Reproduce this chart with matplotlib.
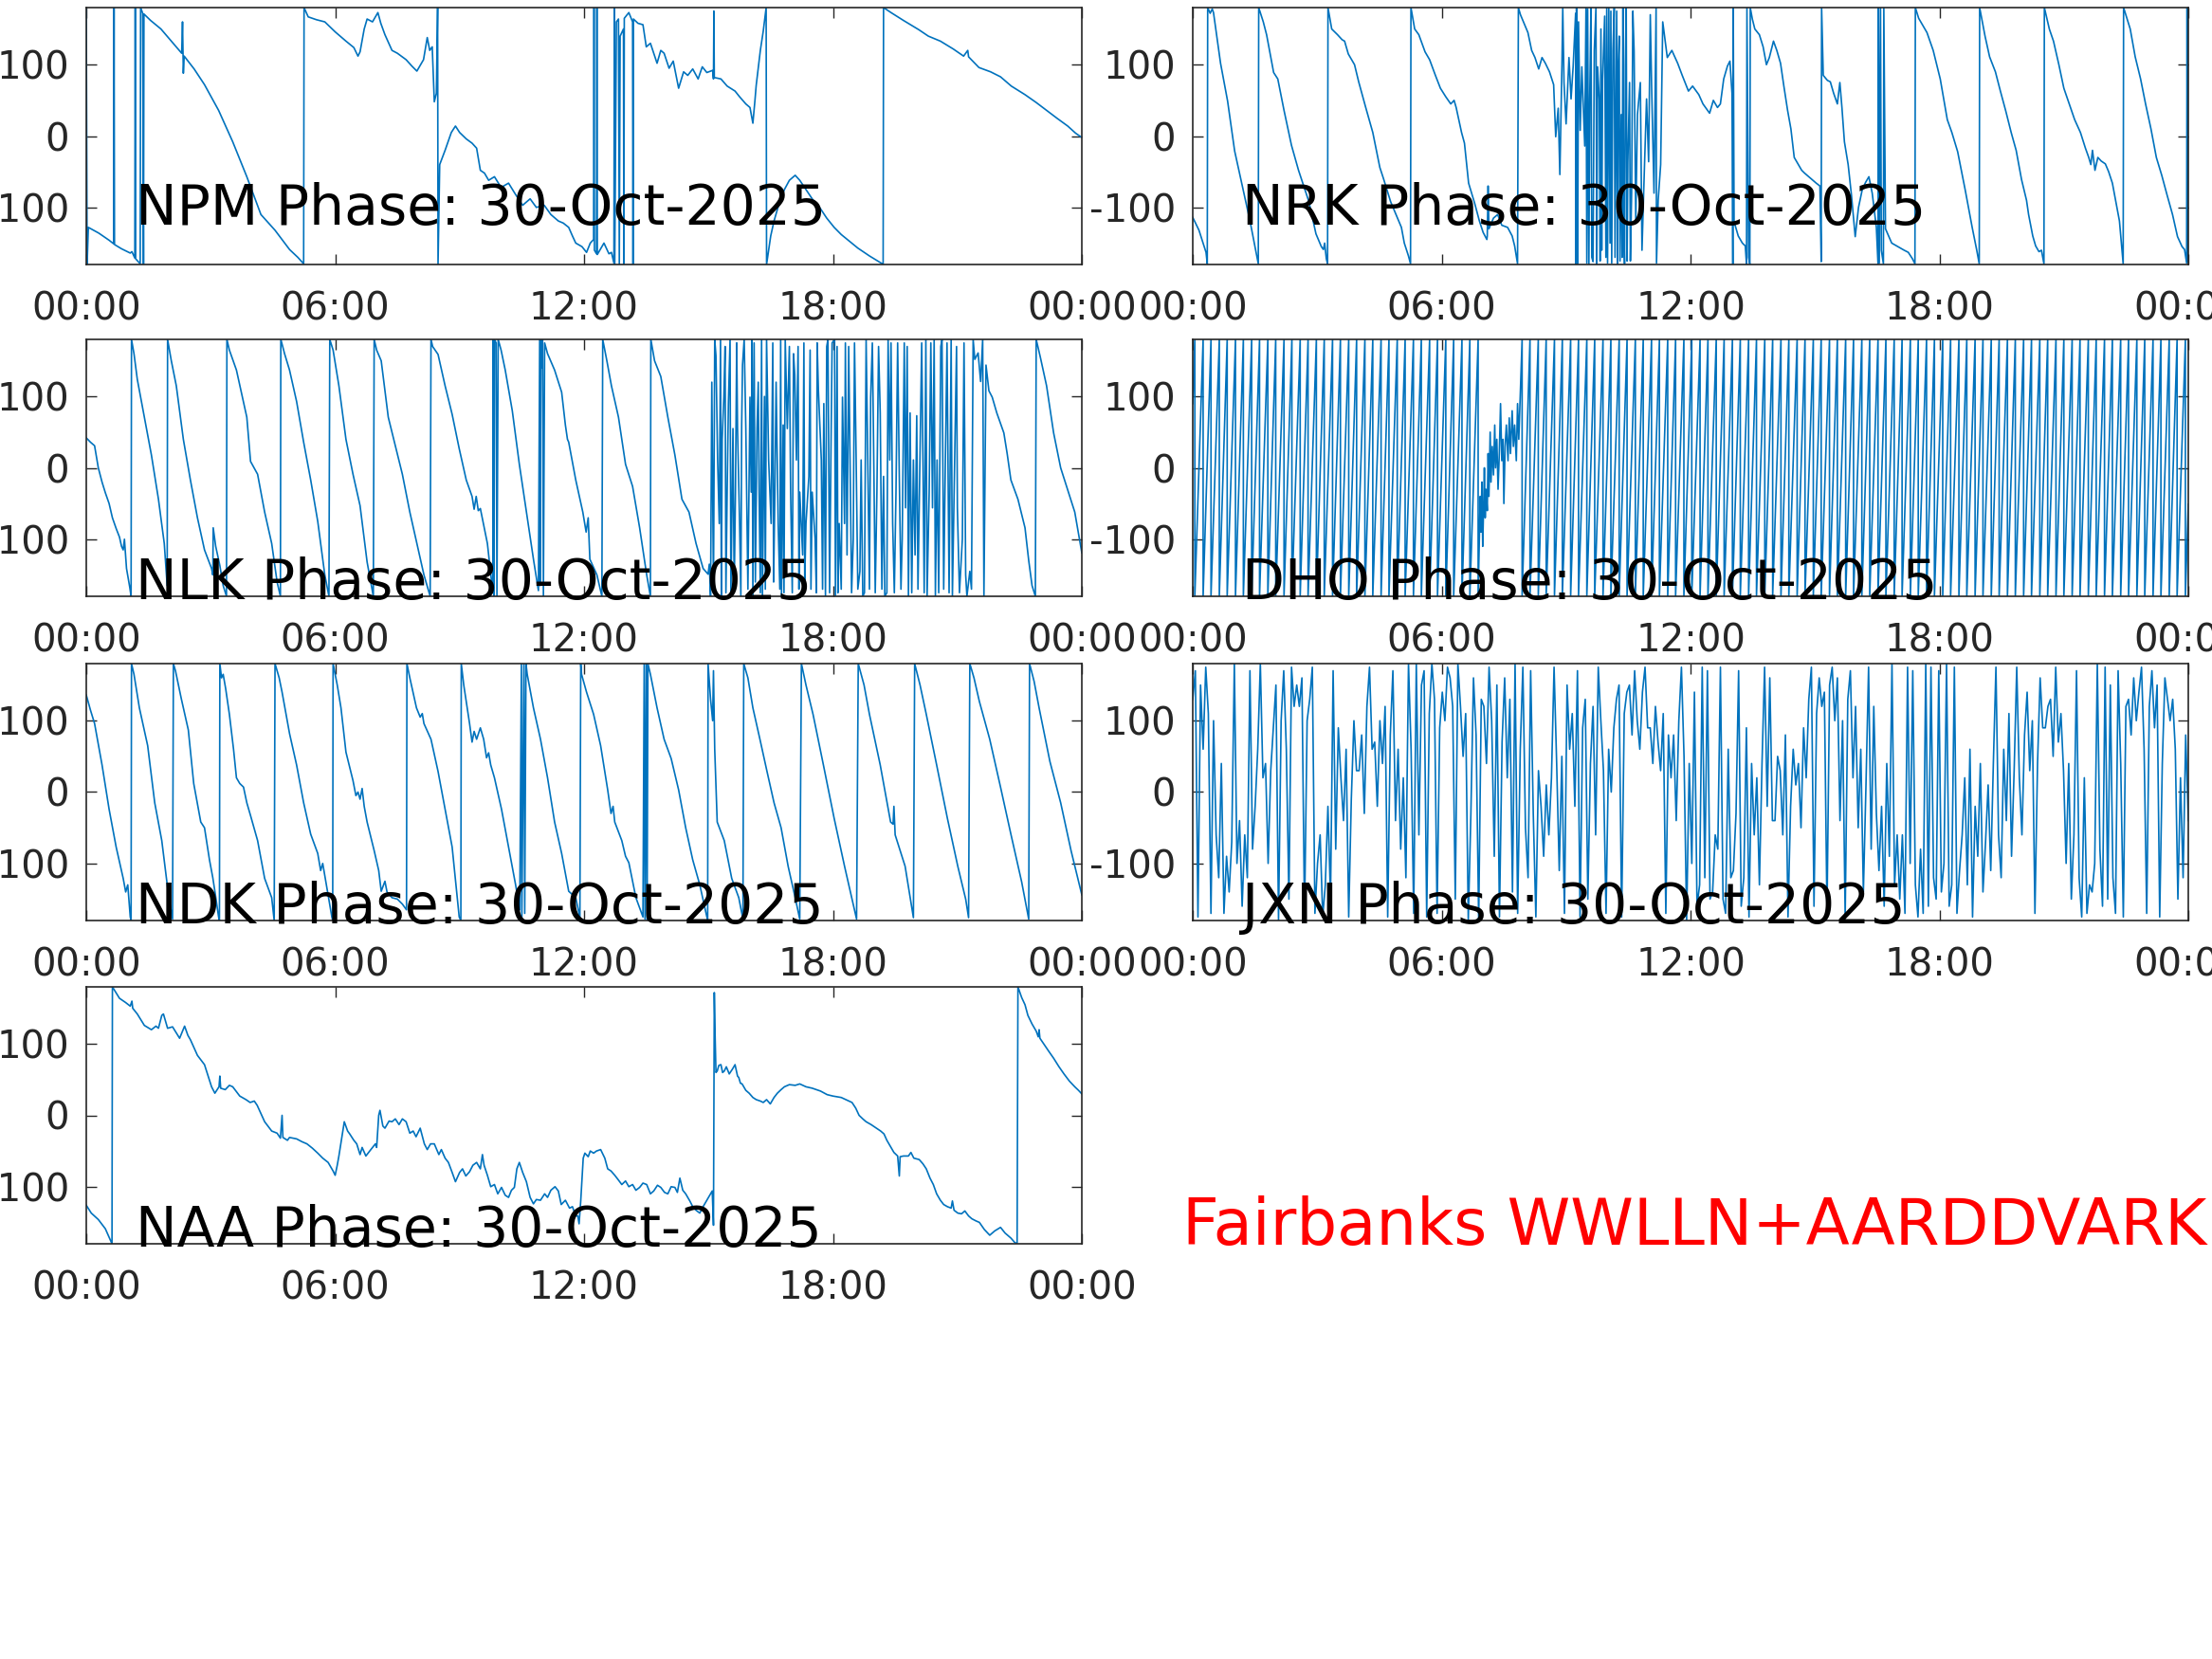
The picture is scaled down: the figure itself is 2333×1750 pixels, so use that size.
import numpy as np
import matplotlib
matplotlib.use("Agg")
import matplotlib.pyplot as plt

plt.rcParams['font.family'] = ['DejaVu Sans']
plt.rcParams['axes.unicode_minus'] = False

# ---------------- data: (hour of day, phase in degrees) ----------------
npm = [(0.00, 180), (0.02, -180), (0.05, -128), (0.30, -136), (0.55, -146), (0.66, -151), (0.67, 180), (0.68, -152),
       (0.85, -158), (1.06, -164), (1.10, -162), (1.17, -171), (1.18, 180), (1.19, -172), (1.30, -179), (1.31, 180),
       (1.36, 172), (1.38, -180), (1.39, 171), (1.55, 162), (1.8, 150), (2.05, 133), (2.3, 116), (2.32, 160), (2.34, 88),
       (2.36, 112), (2.6, 94), (2.85, 72), (3.19, 36), (3.53, -8), (3.87, -57), (4.21, -110), (4.55, -132), (4.9, -159),
       (5.1, -170), (5.24, -179), (5.25, 180), (5.35, 167), (5.55, 163), (5.75, 160), (6.0, 146), (6.26, 133), (6.45, 124),
       (6.55, 112), (6.6, 118), (6.7, 150), (6.77, 164), (6.9, 160), (7.03, 173), (7.1, 158), (7.2, 142), (7.37, 120),
       (7.5, 116), (7.71, 107), (7.85, 98), (7.97, 91), (8.13, 107), (8.22, 138), (8.28, 120), (8.34, 125), (8.39, 48),
       (8.44, 60), (8.47, 180), (8.48, -180), (8.52, -40), (8.65, -20), (8.8, 5), (8.9, 14), (9.0, 5), (9.16, -4),
       (9.3, -10), (9.41, -17), (9.5, -48), (9.6, -52), (9.7, -62), (9.84, -57), (10.0, -72), (10.18, -66), (10.35, -82),
       (10.52, -97), (10.7, -88), (10.85, -100), (11.04, -97), (11.2, -110), (11.38, -119), (11.5, -122), (11.63, -128),
       (11.72, -140), (11.8, -150), (11.95, -155), (12.06, -163), (12.15, -150), (12.23, -145), (12.24, 180), (12.25, -160),
       (12.30, -165), (12.31, 180), (12.32, -166), (12.48, -150), (12.6, -165), (12.66, -163), (12.72, -178), (12.73, 180),
       (12.74, -180), (12.78, 160), (12.83, 164), (12.85, -180), (12.87, 140), (12.95, 150), (12.96, -180), (12.97, 165),
       (13.08, 173), (13.17, 160), (13.18, -180), (13.19, 164), (13.3, 158), (13.42, 156), (13.5, 125), (13.6, 130),
       (13.76, 102), (13.85, 120), (13.93, 116), (14.05, 95), (14.15, 105), (14.28, 67), (14.4, 90), (14.5, 85),
       (14.62, 94), (14.75, 80), (14.85, 97), (14.96, 89), (15.1, 92), (15.12, 80), (15.13, 175), (15.14, 82), (15.3, 80),
       (15.45, 70), (15.64, 63), (15.75, 55), (15.9, 45), (16.0, 40), (16.07, 18), (16.12, 50), (16.15, 71), (16.25, 120),
       (16.32, 147), (16.38, 176), (16.39, 180), (16.40, -180), (16.5, -140), (16.58, -119), (16.7, -95), (16.83, -75),
       (16.95, -62), (17.09, -55), (17.2, -62), (17.35, -75), (17.5, -88), (17.69, -101), (17.85, -115), (18.03, -128),
       (18.2, -138), (18.37, -146), (18.6, -157), (18.88, -168), (19.05, -174), (19.19, -179), (19.21, -180), (19.22, 180),
       (19.4, 173), (19.7, 162), (20.07, 149), (20.3, 140), (20.59, 133), (20.9, 122), (21.15, 112), (21.25, 120),
       (21.27, 111), (21.52, 96), (21.8, 90), (22.04, 83), (22.3, 70), (22.63, 58), (22.9, 47), (23.15, 36), (23.4, 25),
       (23.66, 14), (23.85, 4), (24.0, -2)]

nrk = [(0.0, -114), (0.15, -132), (0.25, -150), (0.32, -163), (0.35, -179), (0.36, 180), (0.42, 172), (0.47, 178),
       (0.5, 173), (0.67, 102), (0.84, 49), (1.01, -21), (1.18, -66), (1.38, -119), (1.5, -155), (1.58, -179), (1.59, 180),
       (1.7, 160), (1.78, 142), (1.95, 89), (2.05, 80), (2.2, 36), (2.38, -13), (2.55, -48), (2.8, -92), (2.97, -137),
       (3.1, -155), (3.15, -159), (3.18, -150), (3.22, -172), (3.25, -179), (3.26, 180), (3.35, 150), (3.49, 142),
       (3.6, 135), (3.66, 133), (3.75, 115), (3.83, 107), (3.9, 100), (4.0, 76), (4.17, 40), (4.34, 5), (4.51, -44),
       (4.6, -60), (4.77, -92), (4.9, -110), (5.03, -128), (5.1, -150), (5.2, -168), (5.25, -179), (5.26, 180), (5.35, 150),
       (5.45, 142), (5.6, 118), (5.71, 107), (5.85, 85), (5.97, 67), (6.1, 55), (6.22, 45), (6.3, 50), (6.35, 40),
       (6.48, 5), (6.55, -10), (6.65, -66), (6.8, -95), (6.91, -119), (7.0, -135), (7.09, -145), (7.1, -140), (7.12, -70),
       (7.14, -130), (7.25, -115), (7.35, -110), (7.45, -125), (7.59, -128), (7.7, -140), (7.76, -154), (7.83, -179),
       (7.85, 180), (7.9, 170), (8.0, 156), (8.08, 145), (8.17, 120), (8.25, 110), (8.34, 94), (8.42, 110), (8.5, 102),
       (8.6, 90), (8.7, 72), (8.75, -1), (8.81, 39), (8.85, -54), (8.9, 100), (8.92, 180), (8.95, 75), (9.0, 17),
       (9.07, 110), (9.12, 52), (9.17, 97), (9.23, 172), (9.24, -180), (9.25, 180), (9.26, 150), (9.27, -180),
       (9.28, -175), (9.3, 160), (9.34, 8), (9.38, 97), (9.45, -14), (9.48, 180), (9.5, -178), (9.52, 178), (9.55, -180),
       (9.57, 52), (9.6, 180), (9.62, -170), (9.65, -176), (9.68, 120), (9.72, 180), (9.74, -180), (9.76, 97), (9.8, 52),
       (9.82, -175), (9.84, 150), (9.86, -160), (9.88, 79), (9.93, 168), (9.96, -170), (9.98, 180), (10.0, -178),
       (10.03, 180), (10.06, -150), (10.08, 175), (10.1, -178), (10.13, 120), (10.16, 180), (10.18, -170), (10.2, 8),
       (10.22, 175), (10.24, -179), (10.26, 100), (10.28, 140), (10.3, -175), (10.33, 30), (10.35, -170), (10.37, 180),
       (10.39, -120), (10.41, -179), (10.43, 100), (10.45, 180), (10.47, -175), (10.49, -36), (10.53, 75), (10.55, -175),
       (10.58, -80), (10.61, 175), (10.64, 119), (10.68, -120), (10.72, 30), (10.79, 75), (10.83, -160), (10.87, -80),
       (10.94, 52), (10.99, -36), (11.03, 170), (11.06, 75), (11.12, -80), (11.17, 180), (11.18, -178), (11.22, -90),
       (11.28, -40), (11.33, 160), (11.44, 110), (11.55, 120), (11.69, 102), (11.8, 85), (11.95, 63), (12.05, 70),
       (12.2, 58), (12.3, 45), (12.46, 32), (12.55, 50), (12.65, 40), (12.72, 45), (12.8, 80), (12.89, 98), (12.95, 105),
       (13.0, 60), (13.02, -180), (13.03, 180), (13.05, -120), (13.15, -140), (13.25, -150), (13.32, -154), (13.35, -180),
       (13.36, 180), (13.4, -170), (13.43, -180), (13.44, 180), (13.49, 164), (13.55, 150), (13.66, 142), (13.75, 125),
       (13.83, 100), (13.9, 110), (14.0, 133), (14.08, 120), (14.17, 102), (14.25, 70), (14.34, 36), (14.42, 10),
       (14.5, -30), (14.6, -40), (14.68, -48), (14.75, -52), (14.85, -57), (14.95, -62), (15.03, -66), (15.12, -70),
       (15.15, -176), (15.16, 180), (15.2, 85), (15.3, 78), (15.37, 76), (15.45, 60), (15.54, 45), (15.6, 75), (15.65, 40),
       (15.71, -8), (15.8, -40), (15.88, -83), (15.97, -141), (16.05, -100), (16.14, -75), (16.22, -65), (16.3, -57),
       (16.38, -80), (16.48, -128), (16.52, -179), (16.53, 180), (16.55, -178), (16.58, 180), (16.6, -160), (16.65, -179),
       (16.66, 180), (16.7, -130), (16.85, -150), (17.0, -155), (17.15, -160), (17.25, -163), (17.35, -172), (17.41, -179),
       (17.42, 180), (17.5, 165), (17.59, 156), (17.7, 145), (17.85, 120), (18.02, 80), (18.19, 23), (18.3, 5),
       (18.44, -22), (18.62, -75), (18.79, -128), (18.9, -160), (18.96, -179), (18.97, 180), (19.1, 140), (19.21, 111),
       (19.35, 90), (19.47, 63), (19.6, 35), (19.73, 5), (19.85, -20), (19.98, -61), (20.1, -90), (20.15, -110),
       (20.25, -140), (20.32, -154), (20.4, -162), (20.46, -160), (20.52, -179), (20.53, 180), (20.65, 150), (20.75, 133),
       (20.88, 100), (21.0, 67), (21.13, 45), (21.26, 23), (21.4, 5), (21.52, -17), (21.6, -30), (21.65, -40),
       (21.69, -20), (21.75, -48), (21.82, -30), (21.9, -35), (22.0, -39), (22.08, -50), (22.17, -66), (22.34, -119),
       (22.43, -179), (22.44, 180), (22.6, 150), (22.72, 111), (22.85, 80), (22.97, 45), (23.1, 10), (23.23, -30),
       (23.36, -55), (23.49, -83), (23.62, -110), (23.74, -141), (23.85, -155), (23.91, -159), (23.96, -178), (23.97, 180),
       (23.98, -170), (24.0, -176)]

nlk = [(0.0, 42), (0.1, 36), (0.2, 31), (0.29, 0), (0.38, -20), (0.46, -35), (0.55, -50), (0.63, -70), (0.72, -85),
       (0.8, -97), (0.85, -110), (0.89, -115), (0.92, -100), (0.97, -141), (1.05, -168), (1.08, -180), (1.09, 180),
       (1.15, 160), (1.23, 124), (1.4, 71), (1.57, 18), (1.74, -44), (1.88, -106), (1.95, -165), (1.96, 180), (2.05, 150),
       (2.17, 115), (2.34, 40), (2.51, -17), (2.68, -70), (2.85, -115), (3.02, -141), (3.05, -150), (3.06, -84),
       (3.12, -110), (3.22, -137), (3.3, -165), (3.38, -180), (3.39, 180), (3.45, 165), (3.62, 137), (3.87, 71), (3.96, 9),
       (4.13, -9), (4.3, -62), (4.47, -106), (4.6, -160), (4.68, -180), (4.69, 180), (4.78, 160), (4.9, 137), (5.07, 93),
       (5.24, 36), (5.41, -17), (5.58, -75), (5.75, -150), (5.85, -180), (5.87, 180), (5.95, 165), (6.09, 115), (6.26, 40),
       (6.43, -9), (6.6, -53), (6.77, -132), (6.92, -180), (6.94, 180), (7.0, 165), (7.11, 150), (7.28, 71), (7.45, 31),
       (7.62, -9), (7.8, -62), (7.97, -106), (8.14, -150), (8.29, -180), (8.31, 180), (8.35, 170), (8.48, 159),
       (8.65, 115), (8.82, 75), (8.99, 27), (9.16, -17), (9.3, -40), (9.35, -58), (9.4, -40), (9.45, -60), (9.5, -57),
       (9.67, -106), (9.8, -175), (9.81, 180), (9.83, -180), (9.84, 180), (9.88, 175), (9.9, -180), (9.93, 180),
       (10.0, 165), (10.1, 137), (10.27, 80), (10.44, 5), (10.61, -62), (10.78, -128), (10.9, -172), (10.93, 180),
       (10.94, -165), (10.96, 180), (10.98, 140), (11.0, 180), (11.02, -180), (11.05, 175), (11.12, 160), (11.29, 137),
       (11.46, 106), (11.55, 60), (11.6, 40), (11.63, 36), (11.8, -17), (11.97, -62), (12.05, -90), (12.1, -70),
       (12.14, -128), (12.31, -150), (12.43, -180), (12.45, 180), (12.55, 150), (12.66, 115), (12.83, 71), (13.0, 5),
       (13.17, -26), (13.34, -84), (13.51, -150), (13.6, -180), (13.61, 180), (13.7, 150), (13.85, 128), (14.02, 71),
       (14.19, 18), (14.36, -44), (14.53, -62), (14.7, -106), (14.87, -141), (14.99, -149), (15.02, -135), (15.05, -180),
       (15.08, 120), (15.12, -170), (15.15, 180), (15.18, 157), (15.22, 11), (15.26, -78), (15.29, 180), (15.31, -180),
       (15.33, 40), (15.37, 99), (15.4, 170), (15.42, -175), (15.45, -34), (15.48, 90), (15.52, 180), (15.54, -180),
       (15.59, 55), (15.62, -170), (15.65, -34), (15.68, 175), (15.7, 55), (15.75, -78), (15.78, -180), (15.8, 60),
       (15.82, 144), (15.86, 180), (15.9, 55), (15.95, -170), (16.0, 99), (16.03, -34), (16.05, 180), (16.07, -180),
       (16.1, 175), (16.13, -160), (16.17, 55), (16.2, 120), (16.22, -34), (16.25, -175), (16.28, 180), (16.3, -180),
       (16.35, 100), (16.37, -170), (16.4, 180), (16.45, 11), (16.51, -78), (16.55, 175), (16.57, -160), (16.6, -34),
       (16.63, 120), (16.68, -78), (16.72, -170), (16.74, 180), (16.76, -180), (16.8, 60), (16.82, -175), (16.85, 180),
       (16.9, 55), (16.95, 170), (16.98, -34), (17.02, -175), (17.05, 160), (17.08, 130), (17.12, 11), (17.16, 170),
       (17.18, -170), (17.2, -34), (17.27, -122), (17.3, 175), (17.32, -160), (17.35, -78), (17.42, -12), (17.45, 165),
       (17.47, -170), (17.5, -34), (17.57, -100), (17.6, -175), (17.62, 175), (17.65, 108), (17.72, 11), (17.75, -170),
       (17.78, 90), (17.82, -180), (17.85, 170), (17.88, 180), (17.92, -175), (17.95, 11), (17.98, 175), (18.04, 180),
       (18.06, -180), (18.1, 170), (18.12, -175), (18.15, -78), (18.2, -170), (18.23, 99), (18.28, -78), (18.3, 175),
       (18.34, -122), (18.38, 170), (18.42, -34), (18.45, -175), (18.49, -100), (18.52, 175), (18.56, 11), (18.6, -170),
       (18.65, -145), (18.68, 11), (18.72, -180), (18.76, -175), (18.8, 180), (18.84, 11), (18.88, -170), (18.91, 99),
       (18.95, 175), (18.98, 33), (19.02, -175), (19.06, -34), (19.1, 170), (19.14, 77), (19.18, -170), (19.22, -12),
       (19.25, -180), (19.3, -175), (19.33, 180), (19.37, 11), (19.4, 175), (19.44, -78), (19.48, -175), (19.52, -34),
       (19.56, 175), (19.6, -12), (19.64, -170), (19.67, -100), (19.72, 175), (19.75, -56), (19.79, 170), (19.82, -180),
       (19.86, 77), (19.9, -175), (19.94, 11), (19.98, -122), (20.02, 73), (20.05, -170), (20.1, 19), (20.14, 175),
       (20.17, 11), (20.2, -175), (20.24, 180), (20.27, -180), (20.32, -34), (20.36, 175), (20.4, -56), (20.44, 180),
       (20.47, -180), (20.51, 11), (20.55, -175), (20.6, 170), (20.63, 180), (20.67, -170), (20.7, -34), (20.75, 175),
       (20.8, -175), (20.85, 180), (20.88, -180), (20.93, -3), (20.98, 170), (21.0, -56), (21.05, -175), (21.12, -100),
       (21.16, 175), (21.2, -150), (21.23, -180), (21.3, -145), (21.34, -170), (21.38, 180), (21.42, 152), (21.5, 161),
       (21.56, 121), (21.61, 180), (21.64, -180), (21.69, 144), (21.76, 108), (21.84, 99), (21.95, 77), (22.12, 49),
       (22.2, 20), (22.29, -17), (22.46, -44), (22.63, -84), (22.72, -130), (22.8, -165), (22.88, -180), (22.9, 180),
       (23.0, 155), (23.15, 115), (23.32, 49), (23.49, 0), (23.66, -31), (23.83, -62), (24.0, -119)]

ndk = [(0.0, 136), (0.1, 115), (0.2, 96), (0.38, 38), (0.55, -24), (0.72, -77), (0.89, -121), (0.95, -140), (1.0, -130),
       (1.06, -175), (1.08, -180), (1.09, 180), (1.15, 165), (1.28, 118), (1.48, 65), (1.65, -15), (1.82, -68),
       (1.99, -148), (2.08, -178), (2.1, 180), (2.15, 170), (2.29, 131), (2.46, 87), (2.59, 12), (2.76, -42), (2.85, -50),
       (2.97, -95), (3.05, -120), (3.1, -139), (3.19, -175), (3.21, -180), (3.22, 180), (3.26, 160), (3.3, 165),
       (3.36, 145), (3.45, 109), (3.55, 60), (3.62, 20), (3.7, 12), (3.79, 7), (3.87, -15), (3.92, -25), (3.96, -33),
       (4.13, -68), (4.3, -121), (4.47, -148), (4.53, -180), (4.55, 180), (4.65, 160), (4.72, 140), (4.9, 82), (5.07, 38),
       (5.24, -15), (5.41, -59), (5.58, -86), (5.65, -110), (5.7, -100), (5.75, -117), (5.92, -175), (5.94, -180),
       (5.95, 180), (6.05, 150), (6.14, 118), (6.26, 56), (6.43, 16), (6.5, -5), (6.55, 0), (6.6, -10), (6.65, 5),
       (6.7, -20), (6.77, -42), (6.94, -82), (7.05, -110), (7.11, -139), (7.2, -125), (7.25, -140), (7.37, -148),
       (7.5, -150), (7.62, -157), (7.72, -165), (7.73, 180), (7.8, 160), (7.96, 118), (8.05, 105), (8.1, 110), (8.14, 96),
       (8.31, 74), (8.48, 29), (8.65, -24), (8.82, -77), (8.99, -175), (9.03, -180), (9.04, 180), (9.1, 150), (9.24, 96),
       (9.3, 70), (9.35, 85), (9.41, 74), (9.5, 90), (9.58, 74), (9.65, 48), (9.7, 55), (9.75, 38), (9.84, 20),
       (10.01, -24), (10.18, -77), (10.35, -130), (10.45, -165), (10.49, 180), (10.5, -180), (10.55, 180), (10.57, -170),
       (10.6, 180), (10.63, 165), (10.78, 118), (10.95, 74), (11.12, 20), (11.29, -42), (11.46, -86), (11.63, -139),
       (11.8, -148), (11.9, -176), (11.92, 180), (11.94, 165), (12.06, 140), (12.23, 109), (12.4, 65), (12.57, 3),
       (12.65, -30), (12.7, -20), (12.74, -42), (12.91, -68), (13.0, -90), (13.08, -99), (13.25, -148), (13.42, -175),
       (13.45, 180), (13.47, -178), (13.5, 180), (13.52, -180), (13.54, 180), (13.6, 165), (13.76, 118), (13.93, 74),
       (14.1, 47), (14.28, 3), (14.45, -50), (14.62, -95), (14.79, -130), (14.96, -175), (14.98, -180), (14.99, 180),
       (15.05, 130), (15.1, 100), (15.12, 170), (15.15, 60), (15.21, -42), (15.38, -68), (15.56, -121), (15.73, -148),
       (15.83, -178), (15.85, 180), (15.95, 160), (16.07, 118), (16.24, 74), (16.41, 29), (16.58, -15), (16.75, -50),
       (16.92, -104), (17.09, -148), (17.2, -178), (17.24, 180), (17.35, 150), (17.52, 109), (17.77, 38), (18.03, -37),
       (18.28, -104), (18.57, -178), (18.61, 180), (18.75, 150), (18.88, 109), (19.14, 38), (19.39, -42), (19.45, -45),
       (19.47, -20), (19.5, -60), (19.74, -104), (19.94, -176), (19.97, 180), (20.1, 150), (20.25, 109), (20.5, 38),
       (20.76, -37), (21.01, -104), (21.2, -150), (21.27, -176), (21.3, 180), (21.4, 160), (21.53, 127), (21.78, 74),
       (22.04, 7), (22.29, -59), (22.55, -126), (22.72, -178), (22.74, 180), (22.85, 155), (22.97, 118), (23.23, 43),
       (23.49, -15), (23.74, -82), (24.0, -144)]

naa = [(0.0, -126), (0.12, -137), (0.29, -146), (0.46, -159), (0.62, -180), (0.63, 180), (0.8, 164), (0.95, 158),
       (1.06, 153), (1.1, 160), (1.12, 150), (1.23, 142), (1.4, 126), (1.57, 120), (1.68, 125), (1.74, 122), (1.82, 140),
       (1.86, 142), (1.96, 122), (2.08, 124), (2.25, 108), (2.3, 115), (2.37, 125), (2.45, 112), (2.51, 106), (2.68, 84),
       (2.85, 71), (3.02, 40), (3.1, 31), (3.2, 40), (3.22, 55), (3.24, 38), (3.35, 36), (3.45, 42), (3.53, 40),
       (3.7, 27), (3.85, 22), (3.95, 18), (4.05, 20), (4.12, 14), (4.3, -9), (4.47, -22), (4.6, -25), (4.68, -32),
       (4.72, 0), (4.74, -31), (4.85, -35), (4.9, -31), (5.07, -33), (5.2, -37), (5.32, -40), (5.45, -46), (5.58, -53),
       (5.7, -60), (5.83, -66), (5.95, -78), (6.0, -84), (6.05, -70), (6.09, -57), (6.22, -9), (6.3, -22), (6.35, -26),
       (6.45, -35), (6.52, -40), (6.6, -55), (6.65, -45), (6.74, -57), (6.86, -48), (6.97, -40), (7.0, -45), (7.05, 0),
       (7.08, 7), (7.15, -15), (7.2, -18), (7.3, -8), (7.37, -9), (7.45, -5), (7.54, -13), (7.62, -5), (7.71, -9),
       (7.8, -25), (7.88, -22), (7.95, -30), (8.05, -18), (8.15, -40), (8.22, -48), (8.3, -40), (8.39, -40), (8.5, -55),
       (8.56, -48), (8.65, -60), (8.73, -66), (8.82, -80), (8.9, -93), (9.0, -80), (9.07, -75), (9.15, -85), (9.24, -79),
       (9.32, -70), (9.41, -66), (9.5, -75), (9.55, -55), (9.59, -70), (9.67, -84), (9.75, -100), (9.84, -97),
       (9.92, -110), (10.01, -101), (10.1, -112), (10.18, -115), (10.25, -105), (10.32, -101), (10.38, -75), (10.44, -66),
       (10.52, -80), (10.61, -93), (10.7, -115), (10.78, -124), (10.85, -118), (10.95, -119), (11.05, -110),
       (11.12, -115), (11.2, -105), (11.3, -100), (11.38, -106), (11.45, -125), (11.55, -119), (11.65, -130),
       (11.72, -128), (11.8, -141), (11.85, -141), (11.88, -152), (11.92, -120), (11.98, -60), (12.02, -53), (12.1, -58),
       (12.15, -50), (12.23, -53), (12.3, -50), (12.4, -48), (12.5, -60), (12.57, -75), (12.65, -78), (12.74, -84),
       (12.82, -90), (12.91, -97), (13.0, -92), (13.08, -100), (13.17, -97), (13.25, -105), (13.34, -101), (13.42, -95),
       (13.51, -97), (13.6, -110), (13.68, -106), (13.77, -98), (13.85, -101), (13.94, -108), (14.02, -110), (14.1, -100),
       (14.19, -101), (14.25, -108), (14.31, -88), (14.38, -105), (14.45, -110), (14.55, -120), (14.62, -128),
       (14.7, -133), (14.79, -137), (14.87, -128), (14.96, -119), (15.05, -110), (15.09, -106), (15.12, -154),
       (15.14, 172), (15.16, 110), (15.18, 60), (15.21, 62), (15.25, 70), (15.3, 71), (15.34, 60), (15.38, 62),
       (15.43, 68), (15.5, 58), (15.58, 65), (15.64, 71), (15.7, 55), (15.73, 53), (15.77, 45), (15.81, 44), (15.9, 35),
       (15.98, 31), (16.07, 25), (16.15, 22), (16.25, 20), (16.32, 18), (16.4, 22), (16.49, 16), (16.58, 25), (16.66, 31),
       (16.75, 36), (16.83, 40), (16.95, 43), (17.09, 42), (17.2, 44), (17.35, 40), (17.5, 38), (17.6, 36), (17.7, 34),
       (17.86, 29), (18.0, 27), (18.2, 25), (18.35, 21), (18.46, 18), (18.55, 10), (18.63, 0), (18.72, -5), (18.8, -9),
       (18.92, -13), (19.05, -18), (19.15, -22), (19.23, -26), (19.3, -35), (19.39, -44), (19.47, -52), (19.56, -57),
       (19.6, -85), (19.62, -58), (19.7, -57), (19.82, -57), (19.88, -52), (19.95, -60), (20.08, -62), (20.17, -68),
       (20.25, -75), (20.34, -88), (20.42, -97), (20.5, -110), (20.59, -119), (20.67, -125), (20.76, -128), (20.85, -130),
       (20.88, -120), (20.92, -133), (21.01, -137), (21.1, -138), (21.18, -134), (21.27, -141), (21.35, -145),
       (21.45, -148), (21.53, -150), (21.65, -160), (21.78, -168), (21.9, -162), (22.04, -157), (22.15, -165),
       (22.29, -172), (22.38, -178), (22.44, -180), (22.46, 180), (22.55, 165), (22.63, 155), (22.7, 140), (22.8, 128),
       (22.9, 118), (22.95, 110), (22.97, 120), (22.99, 108), (23.06, 102), (23.2, 90), (23.32, 80), (23.45, 68),
       (23.57, 58), (23.7, 48), (23.83, 40), (23.92, 35), (24.0, 30)]

# DHO: fast rising sawtooth, wrap times (hours) before and after the noisy gap
dho_start_phase = 90
dho_wraps_early = [0.05, 0.25, 0.44, 0.64, 0.83, 1.03, 1.22, 1.42, 1.61, 1.81, 2.00, 2.20, 2.39, 2.59, 2.78, 2.98,
                   3.17, 3.37, 3.56, 3.76, 3.95, 4.15, 4.34, 4.54, 4.73, 4.93, 5.12, 5.32, 5.51, 5.71, 5.90, 6.10,
                   6.29, 6.49, 6.68, 6.88]
dho_gap = [(6.93, -40), (6.95, -90), (6.97, -20), (6.99, -110), (7.01, -60), (7.03, 0), (7.05, -70), (7.07, -30),
           (7.10, -60), (7.12, 20), (7.14, -40), (7.17, 50), (7.19, -20), (7.22, 30), (7.25, -10), (7.28, 60),
           (7.30, 0), (7.33, 40), (7.36, -30), (7.39, 20), (7.42, 90), (7.45, 10), (7.48, 40), (7.50, -50),
           (7.53, 30), (7.56, 60), (7.60, 10), (7.63, 70), (7.66, 20), (7.70, 80), (7.73, 30), (7.76, 60),
           (7.80, 10), (7.83, 90), (7.86, 40)]
dho_wraps_late = [7.94, 8.13, 8.33, 8.52, 8.72, 8.91, 9.11, 9.30, 9.50, 9.69, 9.89, 10.08, 10.28, 10.47, 10.67,
                  10.86, 11.06, 11.25, 11.45, 11.64, 11.84, 12.03, 12.23, 12.42, 12.62, 12.81, 13.01, 13.20, 13.40,
                  13.59, 13.79, 13.98, 14.18, 14.37, 14.57, 14.76, 14.96, 15.15, 15.35, 15.54, 15.74, 15.93, 16.13,
                  16.32, 16.52, 16.71, 16.91, 17.10, 17.30, 17.49, 17.69, 17.88, 18.08, 18.27, 18.47, 18.66, 18.86,
                  19.05, 19.25, 19.44, 19.64, 19.83, 20.03, 20.22, 20.42, 20.61, 20.81, 21.00, 21.20, 21.39, 21.59,
                  21.78, 21.98, 22.17, 22.37, 22.56, 22.76, 22.95, 23.15, 23.34, 23.54, 23.73, 23.93]
dho_end_phase = -51

# JXN: noisy phase, regularly sampled over the day (8 readings per half hour)
jxn_phase = [130, 170, -175, 150, 60, 175, 110, -170,
             100, -60, -120, 40, -170, -90, -140, -70,
             180, -100, -40, -160, -60, -120, 170, -80,
             -20, 60, 180, 20, 40, -100, 30, 90,
             150, -180, 100, 170, 60, -150, 175, 120,
             150, 120, 160, -175, 100, 130, 175, -170,
             -100, -60, -175, -130, -20, -150, 170, -80,
             90, 20, -40, 60, -175, -10, 100, 30,
             30, 80, -30, 120, 175, 60, 70, -20,
             100, 40, 120, -175, 80, 170, -40, 60,
             -80, 20, -120, 180, 60, -170, 180, -60,
             150, 170, -175, 110, 180, 130, -170, 90,
             140, 100, 175, 160, 120, -150, 180, 120,
             50, 110, -180, -30, 160, 80, -180, 130,
             120, 40, 175, 100, -90, 150, -175, 70,
             160, 20, 130, -140, 180, -170, 60, 175,
             -50, -120, 170, -30, -175, 30, -20, -90,
             10, -60, 20, 175, 40, -110, 50, -170,
             150, 60, 110, -20, 170, -175, 90, 130,
             -150, 40, 120, -60, 175, 100, 30, -170,
             60, 0, 90, 130, 150, -175, 110, 140,
             150, 80, 170, 100, 60, 140, 175, 90,
             90, 40, 120, 70, 30, 110, -170, 80,
             20, 80, -40, 100, 175, 50, -180, 40,
             -100, 140, -160, -130, 175, -120, 170, -150,
             -140, -60, -80, 175, -150, -170, 60, -120,
             -110, -30, 170, -160, -120, 90, -175, 40,
             -60, 20, -130, 40, 175, -20, 160, -40,
             -40, 50, 30, -60, 80, -175, -20, 60,
             10, 40, -50, 90, 20, 130, 175, -160,
             110, 160, 120, 140, -170, 150, 175, 100,
             160, -40, 100, -175, 130, 170, 20, 120,
             -50, 60, -140, 10, 175, -80, 120, -30,
             -110, -20, -160, 40, -90, 180, -130, -60,
             -150, -60, -170, 175, -100, 170, -130, -175,
             -80, -170, 180, -160, 175, -120, -150, 170,
             -140, -100, 180, -160, -130, 175, -170, -110,
             -60, 20, -130, 60, -175, -20, -90, 40,
             -140, -70, 10, -110, 40, 175, -60, -120,
             60, -40, 110, -90, 30, 175, 20, -60,
             80, 140, 30, 100, -170, 40, 160, 90,
             90, 120, 130, 50, 175, 70, 110, 30,
             -100, 40, -150, -60, 170, -120, -175, 20,
             -170, -130, -140, -100, 180, -80, -160, 175,
             -150, 150, -120, -170, 170, 40, -175, 120,
             130, 80, 160, 100, 140, 175, 60, -170,
             120, 170, 90, 150, -175, 40, 160, 130,
             100, 130, 60, -150, 20, -120, 80, -40]

stations = ["NPM", "NRK", "NLK", "DHO", "NDK", "JXN", "NAA"]
date_label = "30-Oct-2025"
xtick_hours = [0, 6, 12, 18, 24]
xtick_labels = ["00:00", "06:00", "12:00", "18:00", "00:00"]
ytick_vals = [-100, 0, 100]
footer = "Fairbanks WWLLN+AARDDVARK"


def unzip(pairs):
    pairs = sorted(pairs, key=lambda q: q[0])
    return [a for a, _ in pairs], [b for _, b in pairs]


def dho_series():
    t, p = [0.0], [dho_start_phase]
    for tw in dho_wraps_early:
        t += [tw, tw]
        p += [180, -180]
    gt, gp = unzip(dho_gap)
    t += gt
    p += gp
    for tw in dho_wraps_late:
        t += [tw, tw]
        p += [180, -180]
    t.append(24.0)
    p.append(dho_end_phase)
    return t, p


series = {
    "NPM": unzip(npm),
    "NRK": unzip(nrk),
    "NLK": unzip(nlk),
    "DHO": dho_series(),
    "NDK": unzip(ndk),
    "JXN": (list(np.linspace(0, 24, len(jxn_phase))), jxn_phase),
    "NAA": unzip(naa),
}

# ---------------- layout ----------------
W, H, DPI = 2333, 1750, 100
fig = plt.figure(figsize=(W / DPI, H / DPI), dpi=DPI)
fig.patch.set_facecolor("white")

col_left = [91, 1258]
row_top = [8, 358, 700, 1041]
ax_w, ax_h = 1050, 271
line_color = "#0072BD"
axis_color = "#262626"

for i, name in enumerate(stations):
    r, c = divmod(i, 2)
    x0 = col_left[c] / W
    y0 = 1 - (row_top[r] + ax_h) / H
    ax = fig.add_axes([x0, y0, ax_w / W, ax_h / H])
    t, p = series[name]
    ax.plot(t, p, color=line_color, lw=1.2)
    ax.set_xlim(0, 24)
    ax.set_ylim(-180, 180)
    ax.set_xticks(xtick_hours)
    ax.set_xticklabels(xtick_labels)
    ax.set_yticks(ytick_vals)
    ax.set_yticklabels([str(v) for v in ytick_vals])
    ax.tick_params(axis="both", direction="in", length=7.9, width=1.0, colors=axis_color,
                   labelsize=29, top=True, right=True)
    ax.tick_params(axis="x", pad=19.5)
    ax.tick_params(axis="y", pad=13)
    for s in ax.spines.values():
        s.set_color(axis_color)
        s.set_linewidth(1.2)
    ty = 0.155 if r == 0 else -0.010
    ax.text(0.0496, ty, f"{name} Phase: {date_label}", transform=ax.transAxes,
            fontsize=42, color="black", ha="left", va="baseline", clip_on=False, zorder=5)

fig.text(1247 / W, 1 - 1313 / H, footer, color="red", fontsize=48.5, ha="left", va="baseline")

fig.savefig("out.png", dpi=DPI, facecolor="white")
